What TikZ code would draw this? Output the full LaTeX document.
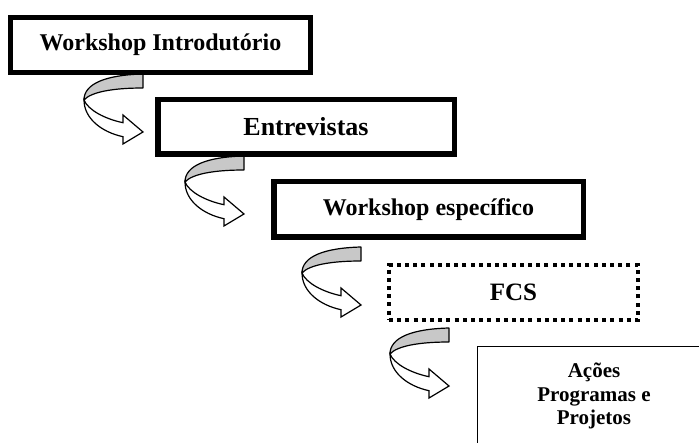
\documentclass[tikz,border=0pt]{standalone}
\usepackage{fontspec}
\setmainfont{Liberation Serif}
\definecolor{bandgray}{RGB}{200,200,200}
\tikzset{
  stepbox/.style={draw, line width=5.5pt, fill=white, inner sep=0pt},
  fcsbox/.style={draw, line width=4pt, dash pattern=on 4pt off 4.2pt, inner sep=0pt},
  endbox/.style={inner sep=0pt, align=center},
  turnarrow/.pic={
    % back of the band
    \draw[line width=1.2pt, fill=bandgray, line join=round]
      (0,0) .. controls (-38,1) and (-59,10) .. (-59,26)
      .. controls (-52,18) and (-30,14) .. (0,14) -- cycle;
    % front of the band with head
    \draw[line width=1.2pt, fill=white]
      (-59,26) .. controls (-59,44) and (-42,58) .. (-20,62.7)
      -- (-20,70) -- (0,58) -- (-20,41) -- (-20,48.7)
      .. controls (-38,45) and (-55,36) .. (-59,26) -- cycle;
  }
}
\begin{document}
\begin{tikzpicture}[x=1pt, y=-1pt]
  \useasboundingbox (0,0) rectangle (699,443);
  \begin{scope}
  \clip (0,0) rectangle (699,443);
  \fill[white] (0,0) rectangle (699,443);
  % turning arrows
  \pic at (143,74)  {turnarrow};
  \pic at (244,156) {turnarrow};
  \pic at (361,247) {turnarrow};
  \pic at (449,328) {turnarrow};
  % steps
  \node[stepbox, minimum width=300pt, minimum height=55pt,
    font=\bfseries\fontsize{24}{28}\selectfont] (intro) at (160.5,45) {Workshop Introdutório};
  \node[stepbox, minimum width=296.5pt, minimum height=54.5pt,
    font=\bfseries\fontsize{26}{30}\selectfont] (entrev) at (306,127) {Entrevistas};
  \node[stepbox, minimum width=309.5pt, minimum height=55.5pt,
    font=\bfseries\fontsize{24}{28}\selectfont] (espec) at (428.5,209.5) {Workshop específico};
  \node[fcsbox, minimum width=249pt, minimum height=55pt,
    font=\bfseries\fontsize{25}{29}\selectfont] (fcs) at (513.5,292.5) {FCS};
  % last step, running off the page
  \node[endbox, minimum width=232pt, minimum height=98.6pt,
    font=\bfseries\fontsize{21}{23.5}\selectfont] (acoes) at (594,396) {Ações\\Programas e\\Projetos};
  \draw[line width=1.2pt] ([xshift=20pt]acoes.north east) -- (acoes.north west) -- (acoes.south west);
  \end{scope}
\end{tikzpicture}
\end{document}
